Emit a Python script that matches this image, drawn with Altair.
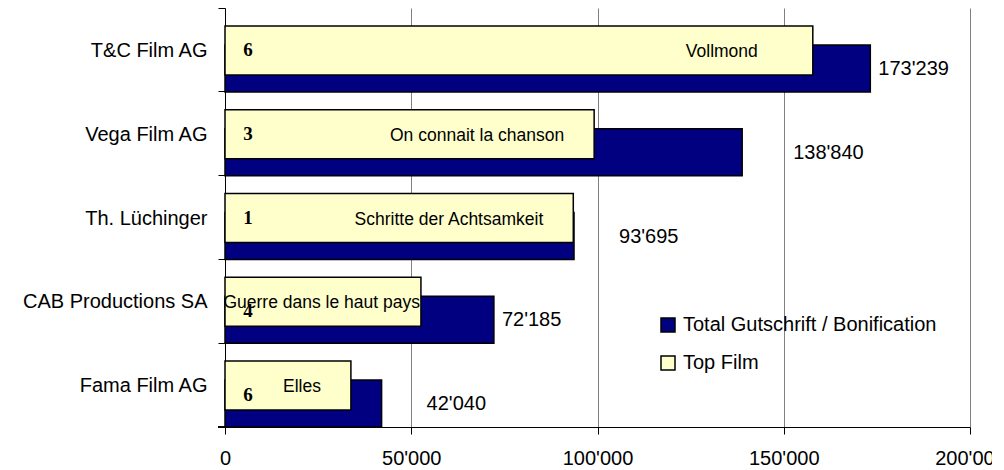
import altair as alt
import pandas as pd

companies = ["T&C Film AG", "Vega Film AG", "Th. Lüchinger", "CAB Productions SA", "Fama Film AG"]
totals = [173239, 138840, 93695, 72185, 42040]
top_film = [157800, 99100, 93500, 52600, 33800]
film_titles = ["Vollmond", "On connait la chanson", "Schritte der Achtsamkeit",
               "Guerre dans le haut pays", "Elles"]
film_counts = [6, 3, 1, 4, 6]
x_ticks = [0, 50000, 100000, 150000, 200000]
series_names = ["Total Gutschrift / Bonification", "Top Film"]
series_colors = ["#000080", "#FFFFCC"]

df = pd.DataFrame({
    "company": companies,
    "total": totals,
    "top": top_film,
    "film": film_titles,
    "count": film_counts,
})

SANS = "Liberation Sans"
FMT = "replace(format(datum.value, ','), regexp(',', 'g'), \"'\")"

base = alt.Chart(df)

y_enc = alt.Y(
    "company:N", sort=companies,
    scale=alt.Scale(paddingInner=0, paddingOuter=0),
    axis=alt.Axis(title=None, bandPosition=0, labelOffset=1, tickSize=7,
                  tickColor="black", domainColor="black", labelFont=SANS,
                  labelFontSize=20, labelColor="black", labelPadding=11,
                  labelBaseline="middle", labelLimit=300),
)
y_plain = alt.Y("company:N", sort=companies)

color_enc = alt.Color(
    "series:N",
    scale=alt.Scale(domain=series_names, range=series_colors),
    legend=alt.Legend(
        title=None, orient="none", legendX=433, legendY=307,
        symbolType="square", symbolSize=196, symbolStrokeColor="black",
        symbolStrokeWidth=1.5, labelFont=SANS, labelFontSize=20,
        labelColor="black", labelOffset=5, rowPadding=18, padding=0,
        labelLimit=400,
    ),
)

folded = base.transform_fold(["total", "top"], as_=["key", "value"]).transform_calculate(
    series="datum.key === 'total' ? 'Total Gutschrift / Bonification' : 'Top Film'"
)

x_enc = alt.X(
    "value:Q",
    scale=alt.Scale(domain=[0, 200000], nice=False),
    axis=alt.Axis(title=None, values=x_ticks, labelExpr=FMT, tickSize=7,
                  tickColor="black", domainColor="black", gridColor="#808080",
                  labelFont=SANS, labelFontSize=20, labelColor="black",
                  labelPadding=14, labelFlush=False, labelOverlap=False),
)

navy = folded.transform_filter("datum.key === 'total'").mark_bar(
    size=47, yOffset=18.5, stroke="black", strokeWidth=1.5
).encode(x=x_enc, y=y_enc, color=color_enc)

yellow = folded.transform_filter("datum.key === 'top'").mark_bar(
    size=49, yOffset=0.5, stroke="black", strokeWidth=1.5
).encode(x="value:Q", y=y_plain, color=alt.Color("series:N"))


def film_label(names, dx):
    return base.transform_filter(
        alt.FieldOneOfPredicate(field="company", oneOf=names)
    ).mark_text(align="right", baseline="middle", dx=dx, dy=2, font=SANS,
                fontSize=17.5, color="black").encode(
        x="top:Q", y=y_plain, text="film:N")


def value_label(names, dx):
    return base.transform_filter(
        alt.FieldOneOfPredicate(field="company", oneOf=names)
    ).transform_calculate(
        lbl="replace(format(datum.total, ','), regexp(',', 'g'), \"'\")"
    ).mark_text(align="left", baseline="middle", dx=dx, yOffset=19, font=SANS,
                fontSize=20, color="black").encode(
        x="total:Q", y=y_plain, text="lbl:N")


def count_label(names, dy):
    return base.transform_filter(
        alt.FieldOneOfPredicate(field="company", oneOf=names)
    ).mark_text(align="center", baseline="middle", dx=23, dy=dy,
                font="Liberation Serif", fontWeight="bold", fontSize=19,
                color="black").encode(
        x=alt.datum(0), y=y_plain, text="count:N")


films = (
    film_label([companies[0]], -55)
    + film_label([companies[1], companies[2], companies[4]], -30)
    + film_label([companies[3]], -1)
)
values = (
    value_label([companies[0], companies[3]], 8)
    + value_label([companies[2], companies[4]], 45)
    + value_label([companies[1]], 51)
)
counts = count_label(companies[:3], 0) + count_label(companies[3:], 10)

corner_tick = base.mark_rule(color="black").encode(
    x=alt.value(-7), x2=alt.value(0), y=alt.value(419)
)

chart = alt.layer(navy, yellow, films, values, counts, corner_tick).properties(
    width=745, height=419,
    autosize=alt.AutoSizeParams(type="none"),
    padding={"left": 217, "top": 0, "right": 22, "bottom": 43},
).configure_view(stroke=None)

chart.save("out.html", embed_options={"renderer": "svg", "actions": False})
